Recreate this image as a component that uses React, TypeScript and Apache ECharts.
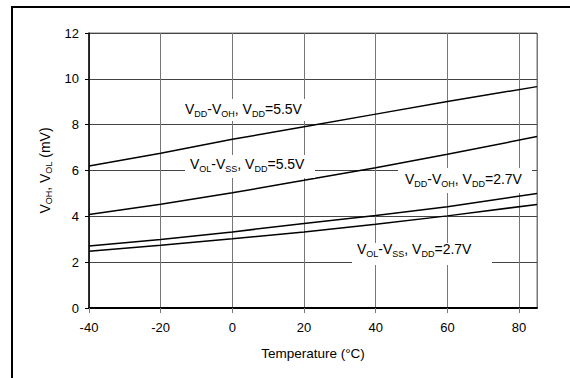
import React, { useEffect, useRef } from "react";
import * as echarts from "echarts";

// Temperature sweep points (°C)
const temperatures = [-40, -20, 0, 20, 40, 60, 85];

// Output voltage drop (mV) for each load/supply condition
const vddVohAt55 = [6.2, 6.75, 7.36, 7.91, 8.46, 9.01, 9.66];
const volVssAt55 = [4.08, 4.53, 5.03, 5.57, 6.12, 6.71, 7.48];
const vddVohAt27 = [2.71, 2.99, 3.32, 3.69, 4.04, 4.42, 5.0];
const volVssAt27 = [2.48, 2.74, 3.02, 3.32, 3.65, 4.02, 4.52];

const xTicks = [-40, -20, 0, 20, 40, 60, 80];
const yTicks = [0, 2, 4, 6, 8, 10, 12];

const FONT = "Liberation Sans, Arial, sans-serif";

const richStyles = {
  n: {
    fontSize: 14,
    fontFamily: FONT,
    color: "#000",
    lineHeight: 16,
    verticalAlign: "bottom",
    padding: [0, 0, 2, 0],
  },
  s: { fontSize: 9, fontFamily: FONT, color: "#000", lineHeight: 9, verticalAlign: "bottom" },
};

const curveLabel = (x: number, y: number, text: string, box: number[]) => [
  {
    type: "rect",
    shape: { x: box[0], y: box[1], width: box[2], height: box[3] },
    style: { fill: "#fff" },
    z: 50,
  },
  {
    type: "text",
    x,
    y,
    style: { text, rich: richStyles, align: "left", verticalAlign: "middle" },
    z: 51,
  },
];

export default function App() {
  const ref = useRef<HTMLDivElement>(null);

  useEffect(() => {
    if (!ref.current) return;
    const chart = echarts.init(ref.current, null, { renderer: "svg" });

    const mkSeries = (name: string, values: number[]) => ({
      name,
      type: "line",
      data: temperatures.map((t, i) => [t, values[i]]),
      symbol: "none",
      lineStyle: { color: "#000", width: 1.5 },
      z: 10,
    });

    chart.setOption({
      animation: false,
      backgroundColor: "#fff",
      grid: {
        left: 89,
        right: 33,
        top: 33,
        bottom: 70,
        show: true,
        borderColor: "#777",
        borderWidth: 1,
      },
      xAxis: {
        type: "value",
        min: -40,
        max: 85,
        interval: 20,
        name: "Temperature (°C)",
        nameLocation: "middle",
        nameGap: 38,
        nameTextStyle: { fontSize: 13.5, fontFamily: FONT, color: "#000" },
        axisLine: { onZero: false, lineStyle: { color: "#000", width: 2 } },
        axisTick: { show: true, length: 5, lineStyle: { color: "#777" } },
        axisLabel: {
          fontSize: 13,
          fontFamily: FONT,
          color: "#000",
          margin: 13,
          showMaxLabel: false,
          formatter: (v: number) => (xTicks.includes(v) ? String(v) : ""),
        },
        splitLine: { show: true, lineStyle: { color: "#777", width: 1 } },
      },
      yAxis: {
        type: "value",
        min: 0,
        max: 12,
        interval: 2,
        name: "{n|V}{s|OH}{n|, V}{s|OL}{n| (mV)}",
        nameLocation: "middle",
        nameRotate: 90,
        nameGap: 30,
        nameTextStyle: { rich: richStyles },
        axisLine: { onZero: false, lineStyle: { color: "#000", width: 1.5 } },
        axisTick: { show: true, length: 4, lineStyle: { color: "#000" } },
        axisLabel: {
          fontSize: 13,
          fontFamily: FONT,
          color: "#000",
          margin: 10,
          formatter: (v: number) => (yTicks.includes(v) ? String(v) : ""),
        },
        splitLine: { show: true, lineStyle: { color: "#444", width: 1 } },
      },
      series: [
        mkSeries("VDD-VOH, VDD=5.5V", vddVohAt55),
        mkSeries("VOL-VSS, VDD=5.5V", volVssAt55),
        mkSeries("VDD-VOH, VDD=2.7V", vddVohAt27),
        mkSeries("VOL-VSS, VDD=2.7V", volVssAt27),
      ],
      graphic: [
        // outer frame
        {
          type: "rect",
          shape: { x: 12, y: 7, width: 700, height: 500 },
          style: { fill: "none", stroke: "#000", lineWidth: 2 },
          z: 60,
        },
        ...curveLabel(185, 110, "{n|V}{s|DD}{n|-V}{s|OH}{n|, V}{s|DD}{n|=5.5V}", [183, 99, 127, 22]),
        ...curveLabel(190, 165, "{n|V}{s|OL}{n|-V}{s|SS}{n|, V}{s|DD}{n|=5.5V}", [185, 155, 130, 23]),
        ...curveLabel(405, 180, "{n|V}{s|DD}{n|-V}{s|OH}{n|, V}{s|DD}{n|=2.7V}", [398, 168, 134, 25]),
        ...curveLabel(357, 250, "{n|V}{s|OL}{n|-V}{s|SS}{n|, V}{s|DD}{n|=2.7V}", [352, 243, 140, 22]),
      ],
    });

    return () => chart.dispose();
  }, []);

  return (
    <div
      ref={ref}
      style={{ position: "fixed", left: 0, top: 0, width: 570, height: 378 }}
    />
  );
}
